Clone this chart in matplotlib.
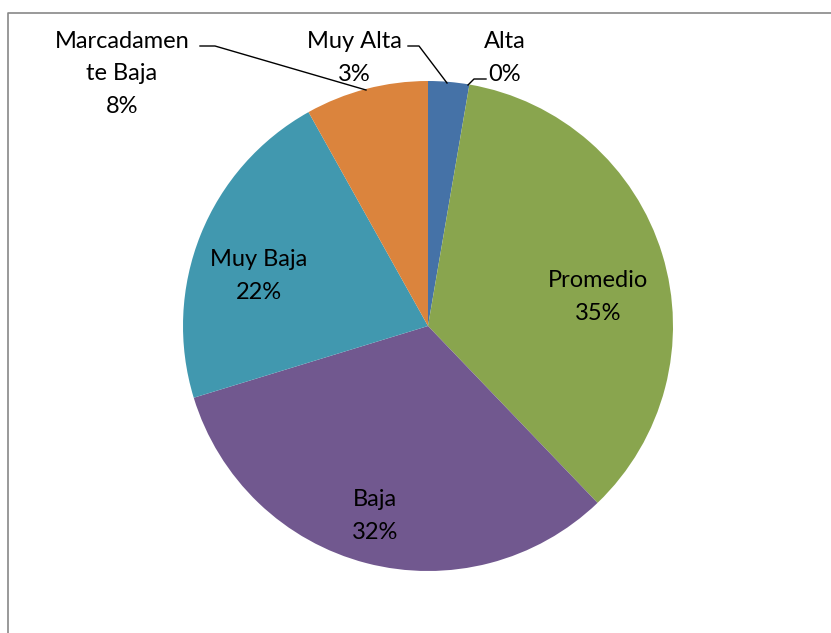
import matplotlib.pyplot as plt
from matplotlib.lines import Line2D

# Data (counts, n = 37)
categories = ['Muy Alta', 'Alta', 'Promedio', 'Baja', 'Muy Baja', 'Marcadamente Baja']
counts = [1, 0, 13, 12, 8, 3]
colors = ['#4572A7', '#AA4643', '#89A54E', '#71588F', '#4198AF', '#DB843D']
label_texts = ['Muy Alta\n3%', 'Alta\n0%', 'Promedio\n35%', 'Baja\n32%',
               'Muy Baja\n22%', 'Marcadamen\nte Baja\n8%']

plt.rcParams['font.family'] = ['Lato', 'DejaVu Sans']

W, H = 831, 633
fig = plt.figure(figsize=(W / 100, H / 100), dpi=100)
ax = fig.add_axes([0, 0, 1, 1])

cx, cy, r = 428, 326, 245
ax.pie(counts, colors=colors, startangle=90, counterclock=False,
       center=(cx, H - cy), radius=r, frame=True,
       wedgeprops=dict(linewidth=0))
ax.set_xlim(0, W)
ax.set_ylim(0, H)
ax.set_aspect('equal')
ax.axis('off')

fs = 17
ls = 1.69


def put(x, y, s):
    ax.text(x, H - y, s, ha='center', va='center', fontsize=fs, linespacing=ls)


# inside labels
put(598, 297, label_texts[2])
put(375, 516, label_texts[3])
put(259, 276, label_texts[4])
# outside labels
put(354, 58, label_texts[0])
put(505, 58, label_texts[1])
put(122, 74, label_texts[5])

# leader lines
for xs, ys in [([200, 215, 366], [46, 46, 90]),
               ([408, 419, 447], [46, 46, 83]),
               ([468, 474, 486], [85, 79, 79])]:
    ax.plot(xs, [H - y for y in ys], color='black', lw=1)

# chart area border (left and top visible)
fig.add_artist(Line2D([7.5 / W, 7.5 / W, 1], [0, 1 - 12.5 / H, 1 - 12.5 / H],
                      transform=fig.transFigure, color='#888888', lw=1.2))

fig.savefig('out.png', dpi=100)
